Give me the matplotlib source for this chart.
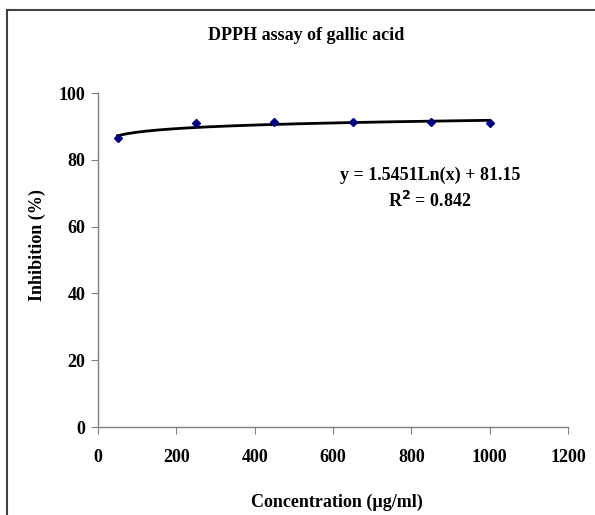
import numpy as np
import matplotlib.pyplot as plt
from matplotlib.lines import Line2D

# data
conc = [50, 250, 450, 650, 850, 1000]
inhibition = [86.6, 91.0, 91.3, 91.2, 91.2, 91.1]
# log trendline given on the chart
slope, intercept = 1.5451, 81.15

plt.rcParams['font.family'] = ['Liberation Serif', 'DejaVu Serif']
plt.rcParams['font.weight'] = 'bold'

fig = plt.figure(figsize=(5.95, 5.15), dpi=100)
ax = fig.add_axes([98/595, (515-427)/515, (568-98)/595, (427-93)/515])

xs = np.linspace(conc[0], conc[-1], 200)
ax.plot(xs, slope*np.log(xs) + intercept, color='black', lw=2, zorder=2)
ax.plot(conc, inhibition, 'D', color='#000080', ms=4.5, zorder=3)

ax.set_xlim(0, 1200)
ax.set_ylim(0, 100)
ax.set_xticks(range(0, 1201, 200))
ax.set_yticks(range(0, 101, 20))
for s in ['top', 'right']:
    ax.spines[s].set_visible(False)
for s in ['left', 'bottom']:
    ax.spines[s].set_color('#808080')
    ax.spines[s].set_linewidth(1)
ax.tick_params(direction='out', length=5, color='#808080', labelsize=13)
ax.tick_params(axis='x', pad=11)
ax.tick_params(axis='y', pad=4)
for lab in ax.get_xticklabels() + ax.get_yticklabels():
    lab.set_fontweight('bold')

fig.text(337/595, 1 - 502/515, 'Concentration (\u00b5g/ml)', ha='center', va='center',
         fontsize=13, fontweight='bold')
fig.text(37/595, 1 - 245/515, 'Inhibition (%)', ha='center', va='center',
         rotation=90, fontsize=13, fontweight='bold')
fig.text(306/595, 1 - 35/515, 'DPPH assay of gallic acid', ha='center', va='center',
         fontsize=13, fontweight='bold')

fig.text(430/595, 1 - 175/515, 'y = 1.5451Ln(x) + 81.15',
         ha='center', va='center', fontsize=13, fontweight='bold')
fig.text(430/595, 1 - 201/515, r'R$^\mathbf{2}$ = 0.842',
         ha='center', va='center', fontsize=13, fontweight='bold')

# outer chart frame
fig.add_artist(Line2D([7/595, 7/595], [0, 1 - 10/515], transform=fig.transFigure,
                      color='#404040', lw=1.5))
fig.add_artist(Line2D([7/595, 1], [1 - 10/515, 1 - 10/515], transform=fig.transFigure,
                      color='#404040', lw=1.5))

fig.savefig('out.png', dpi=100)
